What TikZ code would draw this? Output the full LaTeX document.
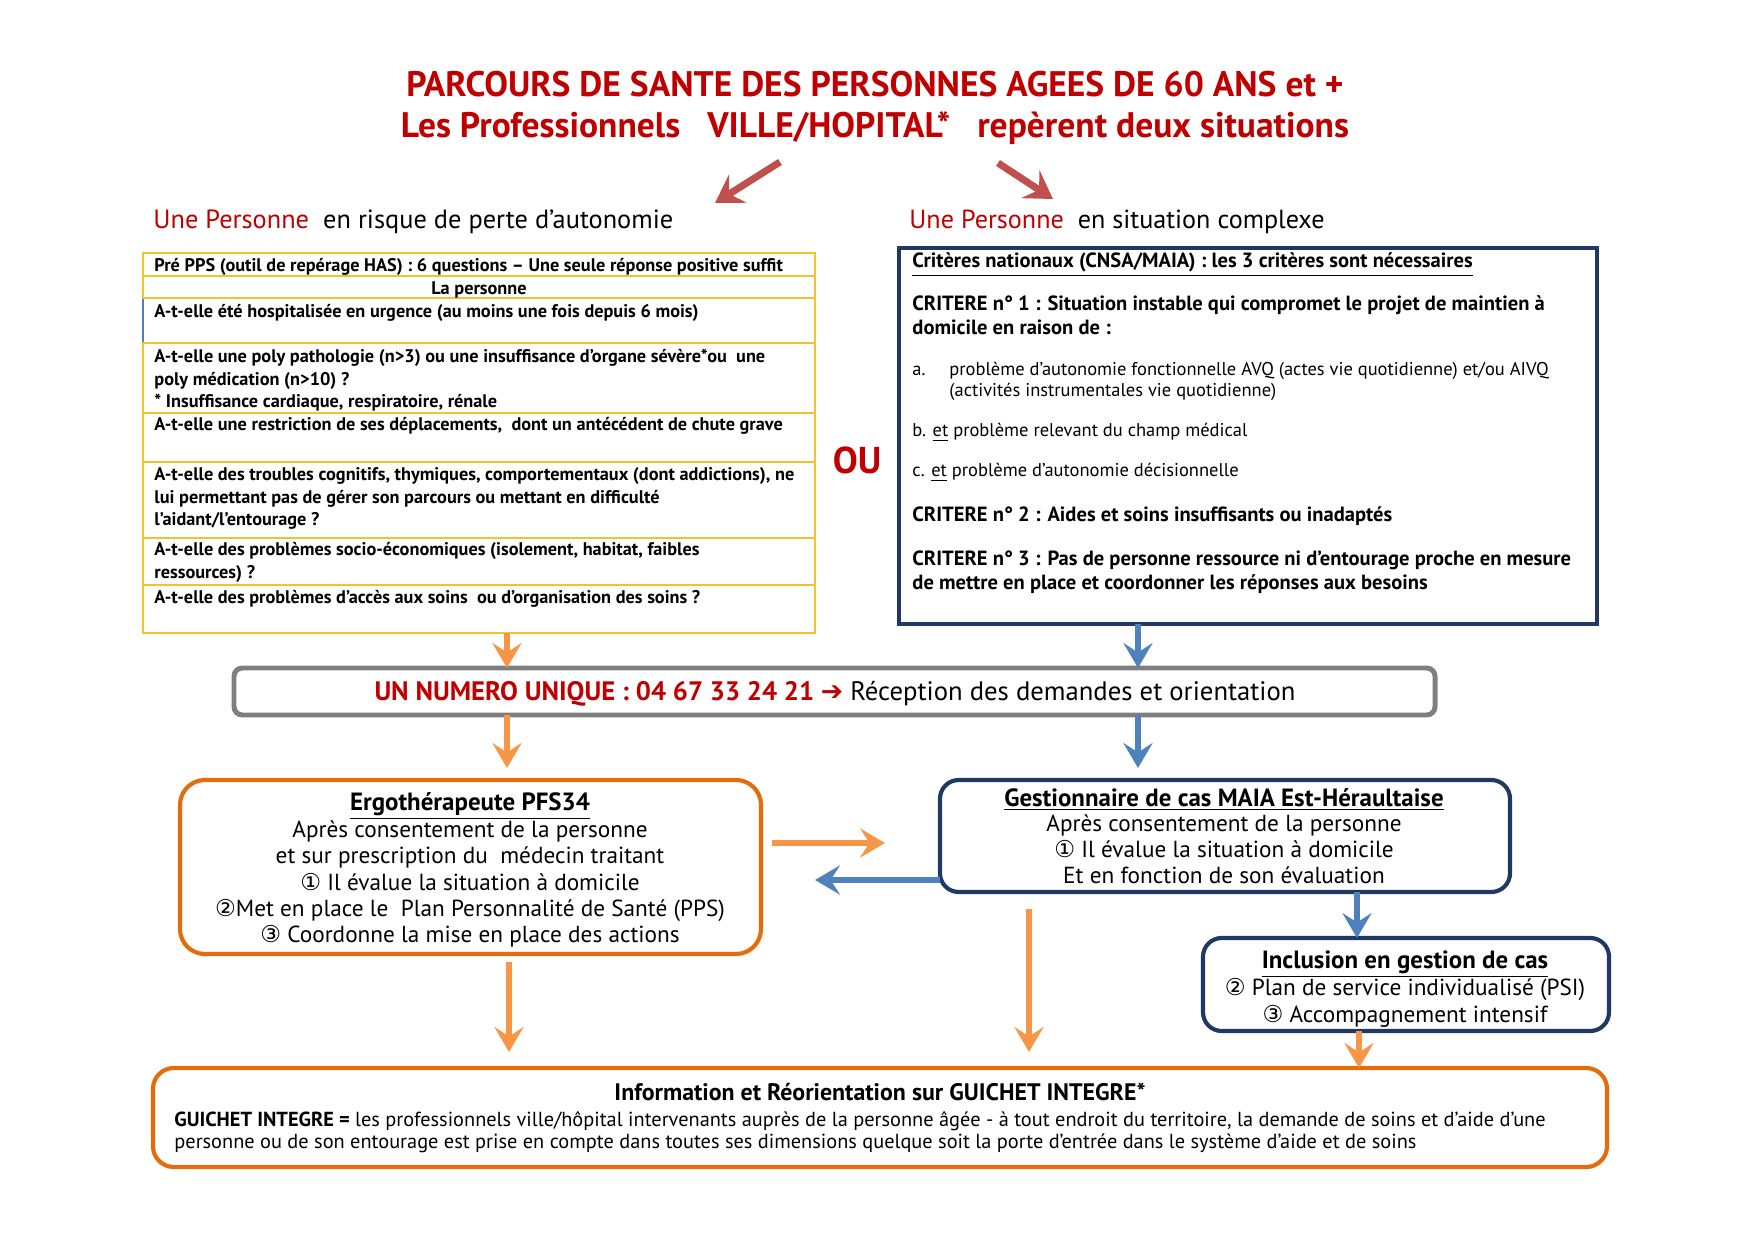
\documentclass[tikz,border=0pt]{standalone}
\usepackage{fontspec}
\setmainfont{PT Sans}
\newfontfamily\symf{DejaVu Sans}
\usetikzlibrary{arrows.meta}
\definecolor{titred}{HTML}{C00000}
\definecolor{arred}{HTML}{C0504D}
\definecolor{orarr}{HTML}{F79646}
\definecolor{blarr}{HTML}{4F81BD}
\definecolor{orbox}{HTML}{E46C0A}
\definecolor{navy}{HTML}{1F3864}
\definecolor{greyb}{HTML}{7F7F7F}
\definecolor{yel}{HTML}{F2C230}
\def\pxu{0.1693mm}
\newcommand\mlL[1]{\begin{tabular}[t]{@{}l@{}}#1\end{tabular}}
\newcommand\mlC[1]{\begin{tabular}[t]{@{}c@{}}#1\end{tabular}}
\newcommand\boxtitfont{\fontsize{12}{12.6}\selectfont\bfseries}
\tikzset{
  boxnode/.style={inner sep=0pt, outer sep=0pt, anchor=north west},
  yline/.style={draw=yel, line width=1.3pt},
  oarr/.style={draw=orarr, line width=2.9pt, -{Stealth[length=12pt,width=14pt,inset=4.5pt]}},
  barr/.style={draw=blarr, line width=2.9pt, -{Stealth[length=12pt,width=14pt,inset=4.5pt]}},
  rarr/.style={draw=arred, line width=3.4pt, -{Stealth[length=13pt,width=16pt,inset=5pt]}},
  tbltxt/.style={inner sep=0pt, anchor=base west, font=\fontsize{8.8}{10.8}\selectfont\bfseries},
  crtxt/.style={inner sep=0pt, anchor=base west, font=\fontsize{9.9}{11.2}\selectfont\bfseries},
  crsub/.style={inner sep=0pt, anchor=base west, font=\fontsize{8.9}{9.7}\selectfont},
  boxtxt/.style={inner sep=0pt, anchor=base, font=\fontsize{11.2}{12.6}\selectfont},
}
\begin{document}
\begin{tikzpicture}[x=0.1693mm,y=-0.1693mm]
\useasboundingbox (0,0) rectangle (1754,1240);
% Title
\node[inner sep=0pt, anchor=base, text=titred,
      font=\fontsize{17.1}{19.3}\selectfont\bfseries] (title) at (875,97)
  {\mlC{PARCOURS DE SANTE DES PERSONNES AGEES DE 60 ANS et +\\
   Les Professionnels\ \ \ VILLE/HOPITAL*\ \ \ repèrent deux situations}};
% Red arrows
\coordinate (r1s) at (780,162); \coordinate (r1e) at (715,203);
\coordinate (r2s) at (998,163); \coordinate (r2e) at (1053,199);
\draw[rarr] (r1s) -- (r1e);
\draw[rarr] (r2s) -- (r2e);
% Subheads
\node[inner sep=0pt, anchor=base west, font=\fontsize{12.7}{14}\selectfont] (subl) at (153,229)
  {\textcolor{titred}{Une Personne}\ \ en risque de perte d’autonomie};
\node[inner sep=0pt, anchor=base west, font=\fontsize{12.6}{14}\selectfont] (subr) at (909,229)
  {\textcolor{titred}{Une Personne}\ \ en situation complexe};
% Left table
\node[boxnode, draw=yel, line width=1.3pt, minimum width=672*\pxu, minimum height=380*\pxu] (tbl) at (143,253) {};
\foreach \yy in {276,298,343,413,462,538,585} {
  \draw[yline] (tbl.west |- 0,\yy) -- (tbl.east |- 0,\yy);
}
\draw[blarr, line width=1.3pt] (143,299) -- (143,342);
\node[tbltxt] (t1) at (154,272) {Pré PPS (outil de repérage HAS) : 6 questions – Une seule réponse positive suffit};
\node[tbltxt, anchor=base] (t2) at (479,294.5) {La personne};
\node[tbltxt] (t3) at (154,318) {A-t-elle été hospitalisée en urgence (au moins une fois depuis 6 mois)};
\node[tbltxt] (t4) at (154,363) {\mlL{A-t-elle une poly pathologie (n>3) ou une insuffisance d’organe sévère*ou\ \ une\\ poly médication (n>10) ?\\ {*} Insuffisance cardiaque, respiratoire, rénale}};
\node[tbltxt] (t5) at (154,431) {A-t-elle une restriction de ses déplacements,\ \ dont un antécédent de chute grave};
\node[tbltxt] (t6) at (154,481) {\mlL{A-t-elle des troubles cognitifs, thymiques, comportementaux (dont addictions), ne\\ lui permettant pas de gérer son parcours ou mettant en difficulté\\ l’aidant/l’entourage ?}};
\node[tbltxt] (t7) at (154,556) {\mlL{A-t-elle des problèmes socio-économiques (isolement, habitat, faibles\\ ressources) ?}};
\node[tbltxt] (t8) at (154,604) {A-t-elle des problèmes d’accès aux soins\ \ ou d’organisation des soins ?};
% OU
\node[inner sep=0pt, text=titred, font=\fontsize{18}{20}\selectfont\bfseries] (ou) at (857,460) {OU};
% Right box
\node[boxnode, draw=navy, line width=1.5pt, minimum width=698*\pxu, minimum height=376*\pxu] (crit) at (899,248) {};
\node[crtxt] (c0) at (912,268) {\underline{Critères nationaux (CNSA/MAIA) : les 3 critères sont nécessaires}};
\node[crtxt] (c1) at (912,311) {\mlL{CRITERE n° 1 : Situation instable qui compromet le projet de maintien à\\ domicile en raison de :}};
\node[crsub] (ca) at (912,376) {a.};
\node[crsub] (cat) at (949,376) {\mlL{problème d’autonomie fonctionnelle AVQ (actes vie quotidienne) et/ou AIVQ\\ (activités instrumentales vie quotidienne)}};
\node[crsub] (cb) at (912,437) {b. \underline{et} problème relevant du champ médical};
\node[crsub] (cc) at (912,477) {c. \underline{et} problème d’autonomie décisionnelle};
\node[crtxt] (c2) at (912,522) {CRITERE n° 2 : Aides et soins insuffisants ou inadaptés};
\node[crtxt] (c3) at (912,566) {\mlL{CRITERE n° 3 : Pas de personne ressource ni d’entourage proche en mesure\\ de mettre en place et coordonner les réponses aux besoins}};
% Number box
\node[boxnode, draw=greyb, line width=2.4pt, rounded corners=4pt, minimum width=1201*\pxu, minimum height=47*\pxu] (num) at (234,668) {};
\node[inner sep=0pt, anchor=base, font=\fontsize{12.85}{14}\selectfont] (numt) at (835,701)
  {\textcolor{titred}{\bfseries UN NUMERO UNIQUE : 04 67 33 24 21 {\symf ➔}} Réception des demandes et orientation};
% Coordinates for vertical arrows
\coordinate (xa) at (507,0);
\coordinate (xb) at (1138,0);
\draw[oarr] (tbl.south -| xa) -- (num.north -| xa);
\draw[barr] (crit.south -| xb) -- (num.north -| xb);
% Ergo box
\node[boxnode, draw=orbox, line width=2pt, rounded corners=12pt, minimum width=581*\pxu, minimum height=174*\pxu] (ergo) at (180,780) {};
\node[boxtxt] (ergot) at (470,810)
  {\mlC{{\boxtitfont\underline{Ergothérapeute PFS34}}\\
   Après consentement de la personne\\
   et sur prescription du\ \ médecin traitant\\
   {\symf ①} Il évalue la situation à domicile\\
   {\symf ②}Met en place le\ \ Plan Personnalité de Santé (PPS)\\
   {\symf ③} Coordonne la mise en place des actions}};
% Gestionnaire box
\node[boxnode, draw=navy, line width=2pt, rounded corners=9pt, minimum width=570*\pxu, minimum height=112*\pxu] (gest) at (940,780) {};
\node[boxtxt, font=\fontsize{11.2}{12.5}\selectfont] (gestt) at (1224,806)
  {\mlC{{\boxtitfont\underline{Gestionnaire de cas MAIA Est-Héraultaise}}\\
   Après consentement de la personne\\
   {\symf ①} Il évalue la situation à domicile\\
   Et en fonction de son évaluation}};
\coordinate (ya) at (0,768);
\draw[oarr] (num.south -| xa) -- (ya -| xa);
\draw[barr] (num.south -| xb) -- (ya -| xb);
% horizontal arrows
\coordinate (h1s) at (772,843); \coordinate (h1e) at (885,843);
\coordinate (h2s) at (935,880); \coordinate (h2e) at (815,880);
\draw[oarr] (h1s) -- (h1e);
\draw[barr] (gest.west |- h2s) -- (h2e);
% Inclusion box
\node[boxnode, draw=navy, line width=2pt, rounded corners=9pt, minimum width=406*\pxu, minimum height=93*\pxu] (incl) at (1203,938) {};
\node[boxtxt, font=\fontsize{11.2}{12.7}\selectfont] (inclt) at (1405,968)
  {\mlC{{\boxtitfont\underline{Inclusion en gestion de cas}}\\
   {\symf ②} Plan de service individualisé (PSI)\\
   {\symf ③} Accompagnement intensif}};
\coordinate (xc) at (1357,0);
\draw[barr] (gest.south -| xc) -- (incl.north -| xc);
% Bottom box
\node[boxnode, draw=orbox, line width=2pt, rounded corners=10pt, minimum width=1454*\pxu, minimum height=99*\pxu] (guich) at (153,1068) {};
\node[inner sep=0pt, anchor=base, font=\fontsize{11.5}{12}\selectfont\bfseries] (guicht) at (880,1100)
  {Information et Réorientation sur GUICHET INTEGRE*};
\node[inner sep=0pt, anchor=base west, font=\fontsize{9.8}{11}\selectfont] (guichb) at (174,1126)
  {\mlL{\textbf{GUICHET INTEGRE =} les professionnels ville/hôpital intervenants auprès de la personne âgée - à tout endroit du territoire, la demande de soins et d’aide d’une\\
   personne ou de son entourage est prise en compte dans toutes ses dimensions quelque soit la porte d’entrée dans le système d’aide et de soins}};
\coordinate (xd) at (509,0);
\coordinate (xe) at (1029,0);
\coordinate (xf) at (1359,0);
\coordinate (ye) at (0,1052);
\coordinate (ys) at (0,909);
\draw[oarr] (ergo.south -| xd) ++(0,8) -- (ye -| xd);
\draw[oarr] (ys -| xe) -- (ye -| xe);
\draw[oarr] (incl.south -| xf) -- (guich.north -| xf);
\end{tikzpicture}
\end{document}
